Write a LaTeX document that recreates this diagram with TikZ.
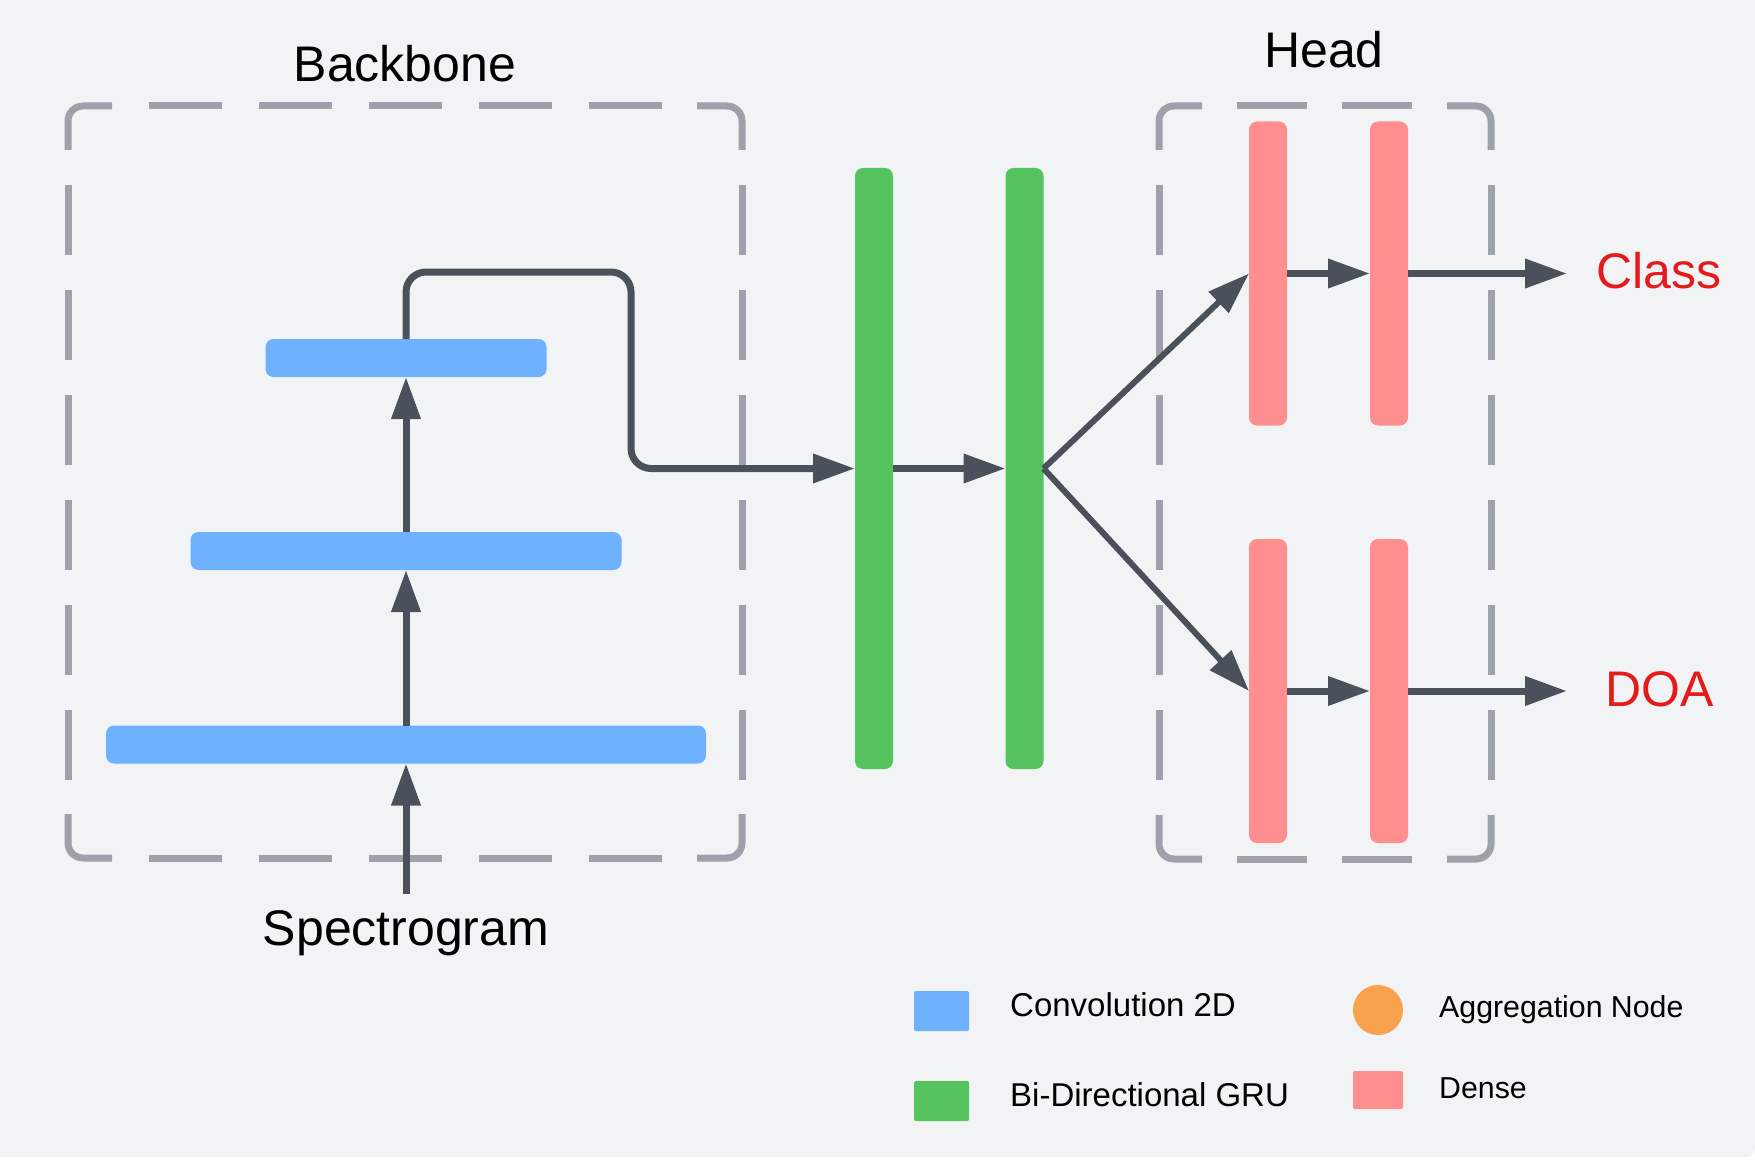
\documentclass[tikz,border=0pt]{standalone}
\usepackage{fontspec}
\setmainfont{Liberation Sans}
\usetikzlibrary{arrows.meta}
\definecolor{bgc}{HTML}{F2F3F5}
\definecolor{convc}{HTML}{6DB1FF}
\definecolor{gruc}{HTML}{55C45F}
\definecolor{densec}{HTML}{FF8F8F}
\definecolor{aggc}{HTML}{F9A24E}
\definecolor{boxc}{HTML}{9DA1AA}
\definecolor{arrc}{HTML}{4B515B}
\definecolor{outc}{HTML}{E31B1B}
\tikzset{
  bar/.style={rectangle, inner sep=0pt, outer sep=0pt, rounded corners=8pt, draw=none},
  convbar/.style={bar, fill=convc, minimum height=38pt},
  grubar/.style={bar, fill=gruc, minimum width=38pt, minimum height=601pt},
  densebar/.style={bar, fill=densec, minimum width=38pt, minimum height=304pt},
  arr/.style={draw=arrc, line width=7pt, line cap=butt, -{Triangle[length=42pt,width=28pt]}},
  darr/.style={arr, line width=6pt},
  boxline/.style={draw=boxc, line width=7pt, line cap=butt},
  boxcorner/.style={boxline, rounded corners=15pt},
  hdash/.style={boxline, dash pattern=on 73pt off 37pt, dash phase=73pt},
  hdashs/.style={boxline, dash pattern=on 70pt off 35pt, dash phase=70pt},
  vdash/.style={boxline, dash pattern=on 70pt off 35pt, dash phase=70pt},
  bigtxt/.style={anchor=base, inner sep=0pt, font=\fontsize{50}{60}\selectfont},
  legtxt/.style={anchor=base west, inner sep=0pt, font=\fontsize{33}{40}\selectfont},
  legtxtb/.style={anchor=base west, inner sep=0pt, font=\fontsize{30.3}{36}\selectfont},
  legbox/.style={rectangle, inner sep=0pt, rounded corners=2pt, draw=none},
}
\begin{document}
\begin{tikzpicture}[x=1pt, y=-1pt]
\useasboundingbox (0,0) rectangle (1755,1161);
\fill[white] (0,0) rectangle (1755,1161);
\fill[bgc, rounded corners=8pt] (-20,-20) rectangle (1755,1157);

% backbone group box (corners solid, sides dashed)
\draw[boxcorner] (68,150) -- (68,106) -- (112,106);
\draw[boxcorner] (697,106) -- (742,106) -- (742,150);
\draw[boxcorner] (742,814) -- (742,858) -- (697,858);
\draw[boxcorner] (112,858) -- (68,858) -- (68,814);
\draw[hdash] (112,106) -- (697,106);
\draw[hdash] (112,858) -- (697,858);
\draw[vdash] (68,150) -- (68,814);
\draw[vdash] (742,150) -- (742,814);

% head group box
\draw[boxcorner] (1159,150) -- (1159,106) -- (1202,106);
\draw[boxcorner] (1447,106) -- (1491,106) -- (1491,150);
\draw[boxcorner] (1491,815) -- (1491,859) -- (1447,859);
\draw[boxcorner] (1202,859) -- (1159,859) -- (1159,815);
\draw[hdashs] (1202,106) -- (1447,106);
\draw[hdashs] (1202,859) -- (1447,859);
\draw[vdash] (1159,150) -- (1159,815);
\draw[vdash] (1491,150) -- (1491,815);

% titles
\node[bigtxt] (tback) at (405,82) {Backbone};
\node[bigtxt] (thead) at (1324,68) {Head};
\node[bigtxt] (spec) at (406,945) {Spectrogram};
\coordinate (specin) at (406,894);

% conv bars
\node[convbar, minimum width=600pt] (conv1) at (406,744.5) {};
\node[convbar, minimum width=431pt] (conv2) at (406,551) {};
\node[convbar, minimum width=281pt] (conv3) at (406,358) {};

% GRU bars
\node[grubar] (gru1) at (874,468.5) {};
\node[grubar] (gru2) at (1024.5,468.5) {};

% dense bars
\node[densebar] (dA1) at (1268,273.5) {};
\node[densebar] (dA2) at (1389,273.5) {};
\node[densebar] (dB1) at (1268,691) {};
\node[densebar] (dB2) at (1389,691) {};

% outputs
\coordinate (classend) at (1567,273.5);
\coordinate (doaend) at (1567,691);
\node[bigtxt, text=outc] (tclass) at (1659,288) {Class};
\node[bigtxt, text=outc] (tdoa) at (1660,706) {DOA};

% connectors
\draw[arr] (specin) -- (conv1.south);
\draw[arr] (conv1.north) -- (conv2.south);
\draw[arr] (conv2.north) -- (conv3.south);
\coordinate (sk1) at (631,272);
\draw[arr, rounded corners=20pt] (conv3.north) |- (sk1) |- (gru1.west);
\draw[arr] (gru1.east) -- (gru2.west);
\draw[darr] (gru2.east) -- (dA1.west);
\draw[darr] (gru2.east) -- (dB1.west);
\draw[arr] (dA1.east) -- (dA2.west);
\draw[arr] (dA2.east) -- (classend);
\draw[arr] (dB1.east) -- (dB2.west);
\draw[arr] (dB2.east) -- (doaend);

% legend
\node[legbox, fill=convc, minimum width=55pt, minimum height=40pt] (lconv) at (941.5,1011) {};
\node[legbox, fill=gruc, minimum width=55pt, minimum height=40pt] (lgru) at (941.5,1101) {};
\node[circle, fill=aggc, inner sep=0pt, minimum size=50pt] (lagg) at (1378,1010) {};
\node[legbox, fill=densec, minimum width=50pt, minimum height=38pt] (ldense) at (1378,1090) {};
\node[legtxt] (tconv) at (1010,1016) {Convolution 2D};
\node[legtxt] (tgru) at (1010,1106) {Bi-Directional GRU};
\node[legtxtb] (tagg) at (1439,1017) {Aggregation Node};
\node[legtxtb] (tdense) at (1439,1098) {Dense};
\end{tikzpicture}
\end{document}
